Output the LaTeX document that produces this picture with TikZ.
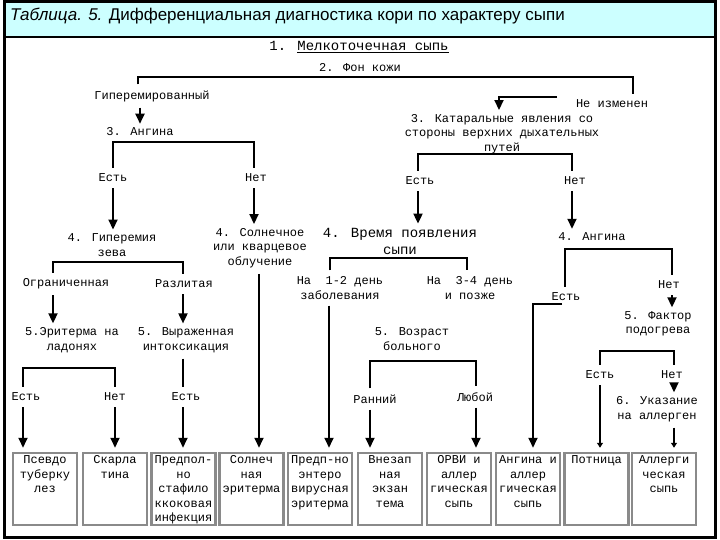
\documentclass[tikz,border=0pt]{standalone}
\usepackage{fontspec}
\setmainfont{Liberation Sans}
\newfontfamily\monof{Liberation Mono}
\usetikzlibrary{arrows.meta}
\definecolor{titlebg}{HTML}{CCFFFF}
\definecolor{cellgray}{HTML}{8A8A8A}
\begin{document}
\begin{tikzpicture}[x=1pt,y=-1pt,
  lbl/.style={font=\monof\fontsize{12}{14.5}\selectfont, inner sep=0pt, align=center},
  big/.style={font=\monof\fontsize{14}{17}\selectfont, inner sep=0pt, align=center},
  ln/.style={line width=1.8pt, black},
  bracket/.style={ln, shorten <=6pt, shorten >=6pt},
  arr/.style={ln, -{Triangle[width=9pt,length=10pt]}, shorten <=6pt, shorten >=4pt},
  sarr/.style={ln, -{Triangle[width=6pt,length=5pt]}, shorten <=6pt, shorten >=4pt},
  cell/.style={draw=cellgray, line width=2.5pt, fill=white, minimum width=64pt, minimum height=72pt, inner sep=0pt},
  celltxt/.style={lbl, anchor=north}
]
\useasboundingbox (0,0) rectangle (720,540);
\fill[white] (0,0) rectangle (720,540);
\fill[titlebg] (4,1.5) rectangle (715,37);
\draw[line width=3pt] (4,1.5) rectangle (715,537.5);
\draw[line width=2.5pt] (4,37) -- (715,37);
\node[anchor=west, inner sep=0pt, font=\fontsize{17}{20}\selectfont] (title) at (10,16)
  {\textit{Таблица. 5.} Дифференциальная диагностика кори по характеру сыпи};

% nodes
\node[big] (t1) at (359,47) {1. \underline{Мелкоточечная сыпь}};
\node[lbl] (t2) at (360,68) {2. Фон кожи};
\node[lbl] (hyp) at (152,96) {Гиперемированный};
\node[lbl] (ne) at (612,104) {Не изменен};
\node[lbl] (ang3) at (140,132) {3. Ангина};
\node[lbl] (kat) at (502,134) {3. Катаральные явления со\\стороны верхних дыхательных\\путей};
\node[lbl] (yes1) at (113,178) {Есть};
\node[lbl] (no1) at (256,178) {Нет};
\node[lbl] (yes2) at (420,181) {Есть};
\node[lbl] (no2) at (575,181) {Нет};
\node[lbl] (hyp4) at (112,245) {4. Гиперемия\\зева};
\node[lbl] (sun4) at (260,248) {4. Солнечное\\или кварцевое\\облучение};
\node[big] (time4) at (400,241) {4. Время появления\\сыпи};
\node[lbl] (ang4) at (592,237) {4. Ангина};
\node[lbl] (na12) at (340,288) {На\ \ 1-2 день\\заболевания};
\node[lbl] (na34) at (470,288) {На\ \ 3-4 день\\и позже};
\node[lbl] (lim) at (66,284) {Ограниченная};
\node[lbl] (razl) at (184,284) {Разлитая};
\node[lbl] (yes3) at (566,297) {Есть};
\node[lbl] (no3) at (669,285) {Нет};
\node[lbl] (er5) at (72,340) {5.Эритерма на\\ладонях};
\node[lbl] (vyr5) at (186,340) {5. Выраженная\\интоксикация};
\node[lbl] (fact5) at (658,324) {5. Фактор\\подогрева};
\node[lbl] (vozr5) at (412,339) {5. Возраст\\больного};
\node[lbl] (yes4) at (26,397) {Есть};
\node[lbl] (no4) at (115,397) {Нет};
\node[lbl] (yes5) at (186,397) {Есть};
\node[lbl] (early) at (375,399) {Ранний};
\node[lbl] (any) at (475,397) {Любой};
\node[lbl] (yes6) at (600,375) {Есть};
\node[lbl] (no6) at (672,375) {Нет};
\node[lbl] (alg6) at (657,409) {6. Указание\\на аллерген};

% cells
\foreach \n/\cx in {1/45,2/115,3/183.5,4/251.5,5/320,6/390,7/459,8/528,9/596.5,10/664}
  \node[cell] (b\n) at (\cx,489) {};
\node[celltxt] at ([yshift=-4pt]b1.north) {Псевдо\\туберку\\лез};
\node[celltxt] at ([yshift=-4pt]b2.north) {Скарла\\тина};
\node[celltxt] at ([yshift=-4pt]b3.north) {Предпол-\\но\\стафило\\ккоковая\\инфекция};
\node[celltxt] at ([yshift=-4pt]b4.north) {Солнеч\\ная\\эритерма};
\node[celltxt] at ([yshift=-4pt]b5.north) {Предп-но\\энтеро\\вирусная\\эритерма};
\node[celltxt] at ([yshift=-4pt]b6.north) {Внезап\\ная\\экзан\\тема};
\node[celltxt] at ([yshift=-4pt]b7.north) {ОРВИ и\\аллер\\гическая\\сыпь};
\node[celltxt] at ([yshift=-4pt]b8.north) {Ангина и\\аллер\\гическая\\сыпь};
\node[celltxt] at ([yshift=-4pt]b9.north) {Потница};
\node[celltxt] at ([yshift=-4pt]b10.north) {Аллерги\\ческая\\сыпь};

% coordinates
\coordinate (fonL) at (138,77);
\coordinate (fonR) at (633,77);
\coordinate (neS) at (557,97);
\coordinate (neT) at (499,97);
\coordinate (a3L) at (113,142);
\coordinate (a3R) at (254,142);
\coordinate (k3L) at (418,154);
\coordinate (k3R) at (572,154);
\coordinate (h4L) at (53,262);
\coordinate (h4R) at (183,262);
\coordinate (tL) at (330,258);
\coordinate (tR) at (467,258);
\coordinate (a4L) at (565,249);
\coordinate (a4R) at (672,249);
\coordinate (e5L) at (23,368);
\coordinate (e5R) at (115,368);
\coordinate (v5L) at (370,361);
\coordinate (v5R) at (476,361);
\coordinate (f5L) at (600,351);
\coordinate (f5R) at (674,351);
\coordinate (y3s) at (562,304);
\coordinate (y3c) at (533,304);
\coordinate (x140) at (140,0);
\coordinate (x259) at (259,0);
\coordinate (x329) at (329,0);

% connectors
\draw[bracket] (hyp.north -| fonL) -- (fonL) -- (fonR) -- (ne.north -| fonR);
\draw[arr, shorten <=0pt] (neS) -- (neT) -- (neT |- kat.north);
\draw[arr] (hyp.south -| x140) -- (ang3.north -| x140);
\draw[bracket] (yes1.north -| a3L) -- (a3L) -- (a3R) -- (no1.north -| a3R);
\draw[arr] (yes1.south -| a3L) -- (hyp4.north -| a3L);
\draw[arr] (no1.south -| a3R) -- (sun4.north -| a3R);
\draw[bracket] (yes2.north -| k3L) -- (k3L) -- (k3R) -- (no2.north -| k3R);
\draw[arr] (yes2.south -| k3L) -- (time4.north -| k3L);
\draw[arr] (no2.south -| k3R) -- (ang4.north -| k3R);
\draw[bracket] (lim.north -| h4L) -- (h4L) -- (h4R) -- (razl.north -| h4R);
\draw[arr] (lim.south -| h4L) -- (er5.north -| h4L);
\draw[arr] (razl.south -| h4R) -- (vyr5.north -| h4R);
\draw[bracket] (yes4.north -| e5L) -- (e5L) -- (e5R) -- (no4.north -| e5R);
\draw[bracket] (vyr5.south -| h4R) -- (yes5.north -| h4R);
\draw[arr] (yes4.south -| e5L) -- (b1.north -| e5L);
\draw[arr] (no4.south -| e5R) -- (b2.north -| e5R);
\draw[arr] (yes5.south -| h4R) -- (b3.north -| h4R);
\draw[arr] (sun4.south -| x259) -- (b4.north -| x259);
\draw[bracket] (na12.north -| tL) -- (tL) -- (tR) -- (na34.north -| tR);
\draw[arr] (na12.south -| x329) -- (b5.north -| x329);
\draw[bracket] (early.north -| v5L) -- (v5L) -- (v5R) -- (any.north -| v5R);
\draw[arr] (early.south -| v5L) -- (b6.north -| v5L);
\draw[arr] (any.south -| v5R) -- (b7.north -| v5R);
\draw[bracket] (yes3.north -| a4L) -- (a4L) -- (a4R) -- (no3.north -| a4R);
\draw[arr, shorten <=0pt] (y3s) -- (y3c) -- (b8.north -| y3c);
\draw[arr] (no3.south -| a4R) -- (fact5.north -| a4R);
\draw[bracket] (yes6.north -| f5L) -- (f5L) -- (f5R) -- (no6.north -| f5R);
\draw[sarr] (yes6.south -| f5L) -- (b9.north -| f5L);
\draw[arr] (no6.south -| f5R) -- (alg6.north -| f5R);
\draw[sarr] (alg6.south -| f5R) -- (b10.north -| f5R);
\end{tikzpicture}
\end{document}
